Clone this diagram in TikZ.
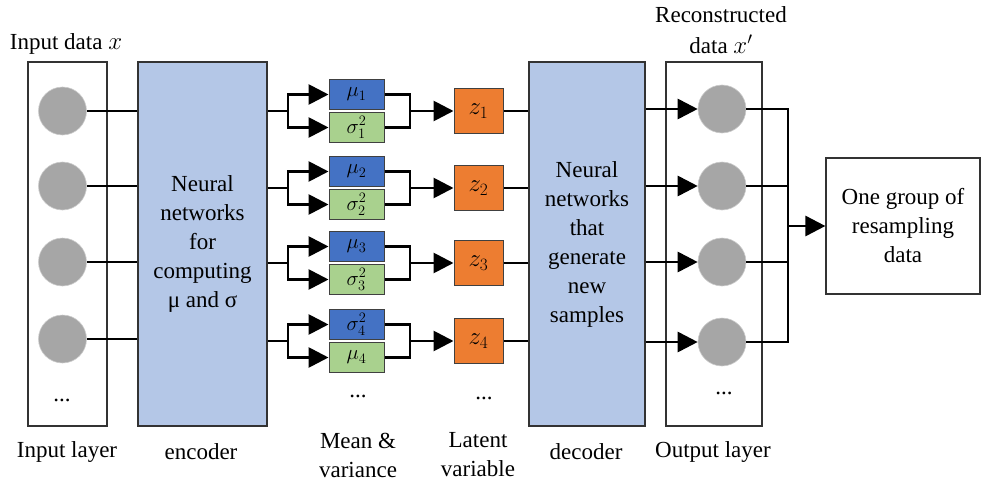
\documentclass[tikz,border=0pt]{standalone}
\usepackage{fontspec}
\setmainfont{Liberation Serif}
\usetikzlibrary{
    arrows.meta,
    positioning
}
\definecolor{encblue}{HTML}{B4C7E7}
\definecolor{meanblue}{HTML}{4472C4}
\definecolor{vargreen}{HTML}{A9D18E}
\definecolor{latorange}{HTML}{ED7D31}

\begin{document}
\begin{tikzpicture}[
        x=1pt, y=-1pt,
        every node/.style={font=\fontsize{23}{29}\selectfont},
        layer/.style={
            rectangle,
            draw=black!80,
            line width=1.2pt,
            minimum height=364pt,
            inner sep=0pt
        },
        netblock/.style={
            rectangle,
            draw=black!80,
            fill=encblue,
            line width=1.2pt,
            minimum height=364pt,
            align=center,
            inner sep=0pt
        },
        neuron/.style={circle, fill=black!35, draw=black!20, line width=0.6pt, minimum size=48pt, inner sep=0pt},
        smallbox/.style={
            rectangle,
            draw=black!75,
            line width=1pt,
            minimum width=55pt,
            minimum height=29.5pt,
            inner sep=0pt,
            font=\fontsize{22}{24}\selectfont
        },
        meanbox/.style={smallbox, fill=meanblue},
        varbox/.style={smallbox, fill=vargreen},
        latent/.style={smallbox, fill=latorange, minimum width=49pt, minimum height=45pt,
            font=\fontsize{24}{26}\selectfont},
        result/.style={rectangle, draw=black!80, line width=1.2pt, minimum width=154pt,
            minimum height=136pt, align=center},
        link/.style={line width=2.8pt, draw=black},
        arrow/.style={link, -{Triangle[length=20pt,width=20pt]}},
        caption/.style={align=center, inner sep=0pt}
    ]
        \useasboundingbox (0,0) rectangle (984,484);

        % Columns
        \node[layer, minimum width=79pt] (inlayer) at (67.5,244) {};
        \node[netblock, minimum width=129pt] (encoder) at (202.5,244)
            {Neural\\networks\\for\\computing\\μ and σ};
        \node[netblock, minimum width=116pt] (decoder) at (587,244)
            {Neural\\networks\\that\\generate\\new\\samples};
        \node[layer, minimum width=96pt] (outlayer) at (714,244) {};
        \node[result] (resample) at (903,226) {One group of\\resampling\\data};

        % Input and output neurons
        \foreach \i/\y in {1/111, 2/186, 3/262, 4/339} {
            \node[neuron] (in\i) at (62.5,\y) {};
            \draw[link] (in\i.east) -- (encoder.west |- in\i);
        }
        \foreach \i/\y in {1/109, 2/186, 3/262, 4/342} {
            \node[neuron] (out\i) at (722,\y) {};
            \draw[arrow] (decoder.east |- out\i) -- (out\i.west);
        }

        % Mean, variance and latent variables
        \foreach \i/\y/\ua/\la in {1/111/{\mu_1}/{\sigma_1^2},
                                   2/188/{\mu_2}/{\sigma_2^2},
                                   3/263/{\mu_3}/{\sigma_3^2},
                                   4/341/{\sigma_4^2}/{\mu_4}} {
            \node[meanbox] (up\i) at (356.5,\y-16.5) {$\ua$};
            \node[varbox] (lo\i) at (356.5,\y+16.5) {$\la$};
            \node[latent] (z\i) at (478.5,\y) {$z_\i$};
            \coordinate (fork\i) at (288,\y);
            \coordinate (merge\i) at (410,\y);
            \draw[link] (encoder.east |- fork\i) -- (fork\i);
            \draw[arrow] (fork\i) |- (up\i.west);
            \draw[arrow] (fork\i) |- (lo\i.west);
            \draw[link] (up\i.east) -| (merge\i) |- (lo\i.east);
            \draw[arrow] (merge\i) -- (z\i.west);
            \draw[link] (z\i.east) -- (decoder.west |- z\i);
        }

        % Output merge
        \coordinate (bus) at (788,226);
        \foreach \i in {1,...,4}
            \draw[link] (out\i.east) -| (bus);
        \draw[arrow] (bus) -- (resample.west);

        % Dots
        \node (indots) at (62,400) {...};
        \node (mvdots) at (358,396) {...};
        \node (zdots) at (484,398) {...};
        \node (outdots) at (724,393) {...};

        % Captions
        \node[caption] (intitle) at (66,44) {Input data $x$};
        \node[caption, font=\fontsize{23}{31}\selectfont] (outtitle) at (721,30)
            {Reconstructed\\data $x'$};
        \node[caption] (incap) at (67,452) {Input layer};
        \node[caption] (enccap) at (201,452) {encoder};
        \node[caption] (mvcap) at (358,455) {Mean \&\\variance};
        \node[caption] (zcap) at (478,455) {Latent\\variable};
        \node[caption] (deccap) at (586,452) {decoder};
        \node[caption] (outcap) at (713,452) {Output layer};
    \end{tikzpicture}
\end{document}
